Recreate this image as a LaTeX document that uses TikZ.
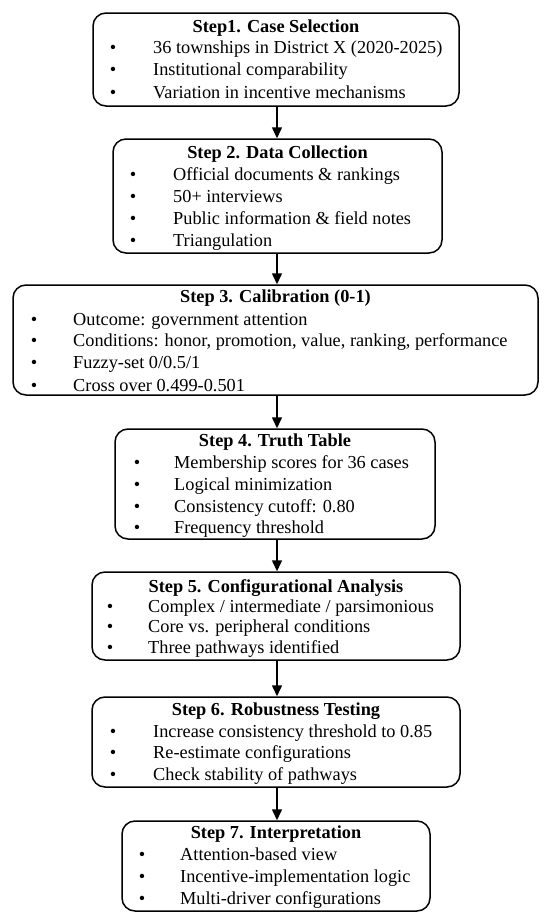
\documentclass[tikz,border=0pt]{standalone}
\usepackage{fontspec}
\setmainfont{Liberation Serif}
\usetikzlibrary{arrows.meta}
\begin{document}
\begin{tikzpicture}[x=1pt,y=-1pt,
  stepbox/.style={draw, line width=1.5pt, rounded corners=13pt, inner sep=0pt},
  ttl/.style={anchor=base, font=\fontsize{18.3}{22}\selectfont\bfseries, inner sep=0pt},
  itm/.style={anchor=base west, font=\fontsize{18.3}{22}\selectfont, inner sep=0pt},
  blt/.style={anchor=base, font=\fontsize{18.3}{22}\selectfont, inner sep=0pt},
  arr/.style={line width=1.5pt, -{Triangle[length=11pt,width=10pt]}}]
\useasboundingbox (0,0) rectangle (550,921);
% boxes
\node[stepbox, minimum width=366pt, minimum height=93pt] (b1) at (276,59.5) {};
\node[stepbox, minimum width=329pt, minimum height=114pt] (b2) at (277.5,196) {};
\node[stepbox, minimum width=525pt, minimum height=110pt] (b3) at (275.5,340) {};
\node[stepbox, minimum width=320pt, minimum height=110pt] (b4) at (275,484) {};
\node[stepbox, minimum width=368pt, minimum height=88pt] (b5) at (276,616) {};
\node[stepbox, minimum width=368pt, minimum height=90pt] (b6) at (276,742) {};
\node[stepbox, minimum width=308pt, minimum height=90pt] (b7) at (276,866) {};
% step 1
\node[ttl] (t1) at (276,32.5) {Step1. Case Selection};
\node[blt] (t1b1) at (113,53.5) {•};
\node[itm] (t1i1) at (153,53.5) {36 townships in District X (2020-2025)};
\node[blt] (t1b2) at (113,75.5) {•};
\node[itm] (t1i2) at (153,75.5) {Institutional comparability};
\node[blt] (t1b3) at (113,98.5) {•};
\node[itm] (t1i3) at (153,98.5) {Variation in incentive mechanisms};
% step 2
\node[ttl] (t2) at (277.5,158.5) {Step 2. Data Collection};
\node[blt] (t2b1) at (133,180.5) {•};
\node[itm] (t2i1) at (173,180.5) {Official documents \& rankings};
\node[blt] (t2b2) at (133,202.5) {•};
\node[itm] (t2i2) at (173,202.5) {50+ interviews};
\node[blt] (t2b3) at (133,224.5) {•};
\node[itm] (t2i3) at (173,224.5) {Public information \& field notes};
\node[blt] (t2b4) at (133,246.5) {•};
\node[itm] (t2i4) at (173,246.5) {Triangulation};
% step 3
\node[ttl] (t3) at (275.5,302.5) {Step 3. Calibration (0-1)};
\node[blt] (t3b1) at (34,325.5) {•};
\node[itm] (t3i1) at (73,325.5) {Outcome: government attention};
\node[blt] (t3b2) at (34,346.5) {•};
\node[itm] (t3i2) at (73,346.5) {Conditions: honor, promotion, value, ranking, performance};
\node[blt] (t3b3) at (34,368.5) {•};
\node[itm] (t3i3) at (73,368.5) {Fuzzy-set 0/0.5/1};
\node[blt] (t3b4) at (34,391.5) {•};
\node[itm] (t3i4) at (73,391.5) {Cross over 0.499-0.501};
% step 4
\node[ttl] (t4) at (275,446.5) {Step 4. Truth Table};
\node[blt] (t4b1) at (137,468.5) {•};
\node[itm] (t4i1) at (174,468.5) {Membership scores for 36 cases};
\node[blt] (t4b2) at (137,490.5) {•};
\node[itm] (t4i2) at (174,490.5) {Logical minimization};
\node[blt] (t4b3) at (137,512.5) {•};
\node[itm] (t4i3) at (174,512.5) {Consistency cutoff: 0.80};
\node[blt] (t4b4) at (137,533.5) {•};
\node[itm] (t4i4) at (174,533.5) {Frequency threshold};
% step 5
\node[ttl] (t5) at (276,592.5) {Step 5. Configurational Analysis};
\node[blt] (t5b1) at (110,612.5) {•};
\node[itm] (t5i1) at (148,612.5) {Complex / intermediate / parsimonious};
\node[blt] (t5b2) at (110,632.5) {•};
\node[itm] (t5i2) at (148,632.5) {Core vs. peripheral conditions};
\node[blt] (t5b3) at (110,653.5) {•};
\node[itm] (t5i3) at (148,653.5) {Three pathways identified};
% step 6
\node[ttl] (t6) at (276,715.5) {Step 6. Robustness Testing};
\node[blt] (t6b1) at (113,737.5) {•};
\node[itm] (t6i1) at (153,737.5) {Increase consistency threshold to 0.85};
\node[blt] (t6b2) at (113,758.5) {•};
\node[itm] (t6i2) at (153,758.5) {Re-estimate configurations};
\node[blt] (t6b3) at (113,780.5) {•};
\node[itm] (t6i3) at (153,780.5) {Check stability of pathways};
% step 7
\node[ttl] (t7) at (276,838.5) {Step 7. Interpretation};
\node[blt] (t7b1) at (142,860.5) {•};
\node[itm] (t7i1) at (180,860.5) {Attention-based view};
\node[blt] (t7b2) at (142,882.5) {•};
\node[itm] (t7i2) at (180,882.5) {Incentive-implementation logic};
\node[blt] (t7b3) at (142,904.5) {•};
\node[itm] (t7i3) at (180,904.5) {Multi-driver configurations};
% arrows
\coordinate (ax) at (277,0);
\draw[arr] (ax |- b1.south) -- (ax |- b2.north);
\draw[arr] (ax |- b2.south) -- (ax |- b3.north);
\draw[arr] (ax |- b3.south) -- (ax |- b4.north);
\draw[arr] (ax |- b4.south) -- (ax |- b5.north);
\draw[arr] (ax |- b5.south) -- (ax |- b6.north);
\draw[arr] (ax |- b6.south) -- (ax |- b7.north);
\end{tikzpicture}
\end{document}
